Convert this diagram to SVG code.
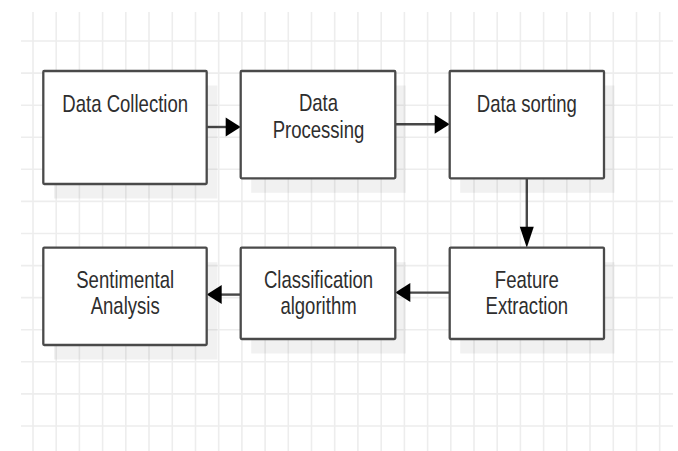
<svg xmlns="http://www.w3.org/2000/svg" width="678" height="451" viewBox="0 0 678 451">
<style>
.grid line{stroke:#ededed;stroke-width:1.6}
.shadow{fill:#000;fill-opacity:0.055}
.box{fill:#fff;stroke:#4a4a4a;stroke-width:2.3}
.lbl{font-family:"Liberation Sans",Arial,sans-serif;font-size:24px;fill:#2e2e2e;text-anchor:middle}
.conn{stroke:#474747;stroke-width:2.4;fill:none}
</style>
<defs>
<marker id="ah" markerUnits="userSpaceOnUse" markerWidth="16" markerHeight="20" refX="1" refY="9.5" orient="auto" viewBox="0 0 16 20" overflow="visible">
<path d="M0,0 L15,9.5 L0,19 Z" fill="#000"/>
</marker>
<marker id="av" markerUnits="userSpaceOnUse" markerWidth="22" markerHeight="15" refX="1" refY="7" orient="auto" viewBox="0 0 22 15" overflow="visible">
<path d="M0,0 L21,7 L0,14 Z" fill="#000"/>
</marker>
</defs>
<rect width="678" height="451" fill="#fff"/>
<g class="grid">
<line x1="33" y1="12" x2="33" y2="451"/>
<line x1="56.2" y1="12" x2="56.2" y2="451"/>
<line x1="79.4" y1="12" x2="79.4" y2="451"/>
<line x1="102.6" y1="12" x2="102.6" y2="451"/>
<line x1="125.8" y1="12" x2="125.8" y2="451"/>
<line x1="149" y1="12" x2="149" y2="451"/>
<line x1="172.3" y1="12" x2="172.3" y2="451"/>
<line x1="195.5" y1="12" x2="195.5" y2="451"/>
<line x1="218.7" y1="12" x2="218.7" y2="451"/>
<line x1="241.9" y1="12" x2="241.9" y2="451"/>
<line x1="265.1" y1="12" x2="265.1" y2="451"/>
<line x1="288.3" y1="12" x2="288.3" y2="451"/>
<line x1="311.5" y1="12" x2="311.5" y2="451"/>
<line x1="334.7" y1="12" x2="334.7" y2="451"/>
<line x1="357.9" y1="12" x2="357.9" y2="451"/>
<line x1="381.2" y1="12" x2="381.2" y2="451"/>
<line x1="404.4" y1="12" x2="404.4" y2="451"/>
<line x1="427.6" y1="12" x2="427.6" y2="451"/>
<line x1="450.8" y1="12" x2="450.8" y2="451"/>
<line x1="474" y1="12" x2="474" y2="451"/>
<line x1="497.2" y1="12" x2="497.2" y2="451"/>
<line x1="520.4" y1="12" x2="520.4" y2="451"/>
<line x1="543.6" y1="12" x2="543.6" y2="451"/>
<line x1="566.8" y1="12" x2="566.8" y2="451"/>
<line x1="590" y1="12" x2="590" y2="451"/>
<line x1="613.3" y1="12" x2="613.3" y2="451"/>
<line x1="636.5" y1="12" x2="636.5" y2="451"/>
<line x1="659.7" y1="12" x2="659.7" y2="451"/>
<line x1="21" y1="41" x2="673" y2="41"/>
<line x1="21" y1="73.1" x2="673" y2="73.1"/>
<line x1="21" y1="105.2" x2="673" y2="105.2"/>
<line x1="21" y1="137.2" x2="673" y2="137.2"/>
<line x1="21" y1="169.3" x2="673" y2="169.3"/>
<line x1="21" y1="201.4" x2="673" y2="201.4"/>
<line x1="21" y1="233.5" x2="673" y2="233.5"/>
<line x1="21" y1="265.6" x2="673" y2="265.6"/>
<line x1="21" y1="297.6" x2="673" y2="297.6"/>
<line x1="21" y1="329.7" x2="673" y2="329.7"/>
<line x1="21" y1="361.8" x2="673" y2="361.8"/>
<line x1="21" y1="393.9" x2="673" y2="393.9"/>
<line x1="21" y1="426" x2="673" y2="426"/>
</g>
<g id="connectors">
<line class="conn" x1="207" y1="127" x2="226.7" y2="127" marker-end="url(#ah)"/>
<line class="conn" x1="395.5" y1="124.2" x2="435.7" y2="124.2" marker-end="url(#ah)"/>
<line class="conn" x1="526.8" y1="178.5" x2="526.8" y2="227.7" marker-end="url(#av)"/>
<line class="conn" x1="449.5" y1="292.6" x2="409.3" y2="292.6" marker-end="url(#ah)"/>
<line class="conn" x1="240.5" y1="294.6" x2="220.7" y2="294.6" marker-end="url(#ah)"/>
</g>
<g id="n1">
<rect class="shadow" x="54" y="85.5" width="163.4" height="113"/>
<rect class="box" x="43.3" y="71" width="163.4" height="113" rx="1"/>
<text class="lbl" transform="translate(125.2,0) scale(0.773,1)" x="0" y="111.6">Data Collection</text>
</g>
<g id="n2">
<rect class="shadow" x="251.2" y="85.5" width="154.6" height="107.3"/>
<rect class="box" x="240.7" y="71" width="154.6" height="107.3" rx="1"/>
<text class="lbl" transform="translate(318.5,0) scale(0.773,1)" x="0" y="111.2">Data</text>
<text class="lbl" transform="translate(318.5,0) scale(0.773,1)" x="0" y="138.4">Processing</text>
</g>
<g id="n3">
<rect class="shadow" x="460.2" y="85.5" width="154.3" height="107.3"/>
<rect class="box" x="449.7" y="71" width="154.3" height="107.3" rx="1"/>
<text class="lbl" transform="translate(526.8,0) scale(0.773,1)" x="0" y="111.6">Data sorting</text>
</g>
<g id="n4">
<rect class="shadow" x="460.2" y="262.2" width="154.3" height="91.3"/>
<rect class="box" x="449.7" y="247.7" width="154.3" height="91.3" rx="1"/>
<text class="lbl" transform="translate(526.8,0) scale(0.773,1)" x="0" y="288.3">Feature</text>
<text class="lbl" transform="translate(526.8,0) scale(0.773,1)" x="0" y="314.4">Extraction</text>
</g>
<g id="n5">
<rect class="shadow" x="251.2" y="262.2" width="154.6" height="91.3"/>
<rect class="box" x="240.7" y="247.7" width="154.6" height="91.3" rx="1"/>
<text class="lbl" transform="translate(318.5,0) scale(0.773,1)" x="0" y="288.3">Classification</text>
<text class="lbl" transform="translate(318.5,0) scale(0.773,1)" x="0" y="314.4">algorithm</text>
</g>
<g id="n6">
<rect class="shadow" x="54" y="262.2" width="163.4" height="97.3"/>
<rect class="box" x="43.3" y="247.7" width="163.4" height="97.3" rx="1"/>
<text class="lbl" transform="translate(125.2,0) scale(0.773,1)" x="0" y="288">Sentimental</text>
<text class="lbl" transform="translate(125.2,0) scale(0.773,1)" x="0" y="314">Analysis</text>
</g>
</svg>
